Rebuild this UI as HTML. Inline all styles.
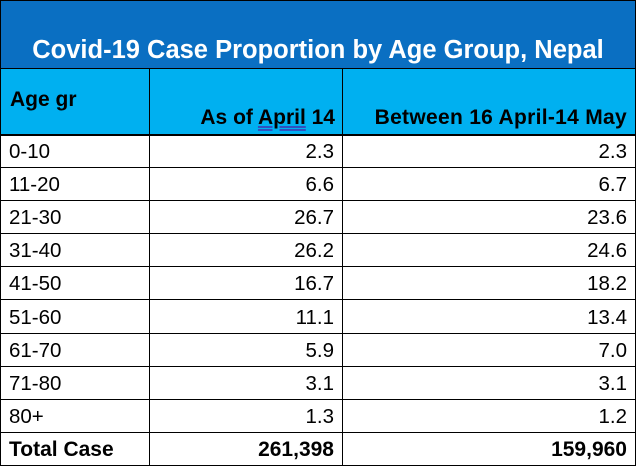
<!DOCTYPE html>
<html><head><meta charset="utf-8"><style>
body{margin:0;width:636px;height:466px;background:#fff;font-family:"Liberation Sans",sans-serif;overflow:hidden;position:relative}
.a{position:absolute;box-sizing:border-box}
.t{left:0;top:0;width:636px;height:68px;background:#0a6fc2;border:1px solid #000;border-bottom:none;color:#fff;font-weight:bold;font-size:25.5px;text-align:center;line-height:26px;padding-top:36px;white-space:nowrap}
.h{top:68px;height:67px;background:#00b0f0;font-weight:bold;font-size:19px;color:#000}
.c{font-size:20.5px;color:#000;height:33px;line-height:33px;padding:0 8px;white-space:nowrap}
.r{text-align:right}
.l{background:#000}
</style></head><body>
<div class="a t">Covid-19 Case Proportion by Age Group, Nepal</div>
<div class="a h" style="left:0;width:636px"></div>
<div class="a" style="left:10px;top:88px;font-weight:bold;font-size:21px">Age gr</div>
<div class="a" style="left:150px;width:185px;top:106px;text-align:right;font-weight:bold;font-size:21px;white-space:nowrap">As of <span style="text-decoration:underline double #3050c0">April</span> 14</div>
<div class="a" style="left:343px;width:284px;top:106px;text-align:right;font-weight:bold;font-size:21px;white-space:nowrap;letter-spacing:0.3px">Between 16 April-14 May</div>
<div id="rows"></div>
<div class="a l" style="left:0;top:0;width:1px;height:466px"></div>
<div class="a l" style="left:635px;top:0;width:1px;height:466px"></div>
<div class="a l" style="left:149px;top:68px;width:1px;height:398px"></div>
<div class="a l" style="left:342px;top:68px;width:1px;height:398px"></div>
<div class="a l" style="left:0;top:68px;width:636px;height:1px"></div>
<div class="a l" style="left:0;top:134px;width:636px;height:2px"></div>
<script>
const ages=["0-10","11-20","21-30","31-40","41-50","51-60","61-70","71-80","80+","Total Case"];
const apr=["2.3","6.6","26.7","26.2","16.7","11.1","5.9","3.1","1.3","261,398"];
const may=["2.3","6.7","23.6","24.6","18.2","13.4","7.0","3.1","1.2","159,960"];
const root=document.getElementById('rows');
ages.forEach((a,i)=>{
  const top=135+i*33.1;
  const bold=i===ages.length-1?'font-weight:bold;font-size:21px;':'';
  const c1=document.createElement('div');
  c1.className='a c';c1.style.cssText=`left:1px;width:148px;top:${top}px;${bold}`;c1.textContent=a;
  
  
  const c2=document.createElement('div');
  c2.className='a c r';c2.style.cssText=`left:150px;width:192px;top:${top}px;${bold}`;c2.textContent=apr[i];
  
  
  const c3=document.createElement('div');
  c3.className='a c r';c3.style.cssText=`left:343px;width:292px;top:${top}px;${bold}`;c3.textContent=may[i];
  
  
  const ln=document.createElement('div');
  ln.className='a l';ln.style.cssText=`left:0;top:${top+32}px;width:636px;height:1px`;
  
  
  root.append(c1,c2,c3,ln);
});
</script>
</body></html>
